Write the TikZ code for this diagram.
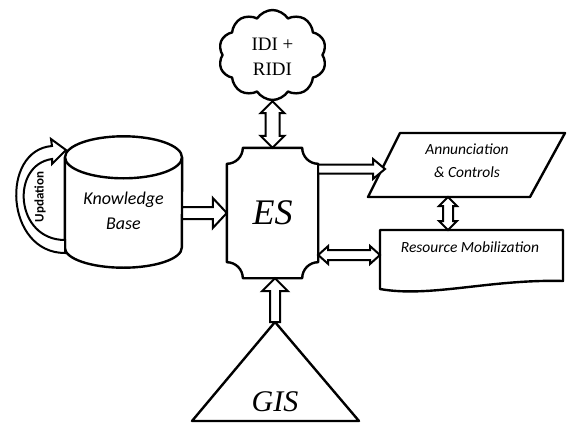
\documentclass[tikz,border=0pt]{standalone}
\usepackage{fontspec}
\newfontfamily\carl{Carlito}
\newfontfamily\serf{Liberation Serif}
\usetikzlibrary{shapes.symbols,calc}
\tikzset{
  shp/.style={draw=black, line width=2.4pt, line join=round},
  blk/.style={draw=black, line width=2pt, fill=white, line join=miter},
  lbl/.style={font=\carl\itshape, align=center, inner sep=0pt},
  box/.style={inner sep=0pt, draw=none},
}
% single block arrow: from #1 to #2, shaft half-width #3, head half-width #4, head length #5 (pt)
\newcommand\blkarrow[5]{%
  \path[blk] let \p1=(#1), \p2=(#2), \n1={atan2(\y2-\y1,\x2-\x1)}, \n2={veclen(\x2-\x1,\y2-\y1)} in
  [shift={(\p1)}, rotate=\n1] (0pt,#3pt) -- ({\n2-#5pt},#3pt) -- ({\n2-#5pt},#4pt) -- (\n2,0pt)
  -- ({\n2-#5pt},-#4pt) -- ({\n2-#5pt},-#3pt) -- (0pt,-#3pt) -- cycle;}
% double block arrow
\newcommand\dblarrow[5]{%
  \path[blk] let \p1=(#1), \p2=(#2), \n1={atan2(\y2-\y1,\x2-\x1)}, \n2={veclen(\x2-\x1,\y2-\y1)} in
  [shift={(\p1)}, rotate=\n1] (0pt,0pt) -- (#5pt,#4pt) -- (#5pt,#3pt) -- ({\n2-#5pt},#3pt) -- ({\n2-#5pt},#4pt) -- (\n2,0pt)
  -- ({\n2-#5pt},-#4pt) -- ({\n2-#5pt},-#3pt) -- (#5pt,-#3pt) -- (#5pt,-#4pt) -- cycle;}
\begin{document}
\begin{tikzpicture}[x=1pt,y=-1pt]
\useasboundingbox (0,0) rectangle (568,423);

% cloud
\node[shp, cloud, cloud puffs=10, cloud puff arc=115, cloud ignores aspect,
      minimum width=108pt, minimum height=90pt, inner sep=0pt] (cloud) at (272.5,55) {};
\node[align=center, inner sep=0pt, font=\serf\fontsize{19}{25}\selectfont] (idi) at (272.5,57) {IDI +\\RIDI};

% ES
\node[box, minimum width=91pt, minimum height=130pt] (es) at (272.5,213) {};
\draw[shp] ($(es.north west)+(16,0)$) -- ($(es.north east)+(-16,0)$) arc[start angle=180,end angle=90,radius=16]
  -- ($(es.south east)+(0,-16)$) arc[start angle=270,end angle=180,radius=16]
  -- ($(es.south west)+(16,0)$) arc[start angle=0,end angle=-90,radius=16]
  -- ($(es.north west)+(0,16)$) arc[start angle=90,end angle=0,radius=16] -- cycle;
\node[inner sep=0pt, font=\serf\fontsize{36}{40}\selectfont\itshape] (estext) at (es.center) {ES};

% Knowledge base cylinder
\node[box, minimum width=117pt, minimum height=131pt] (kb) at (123.5,202) {};
\draw[shp] ($(kb.north)+(0,21)$) ellipse [x radius=58.5, y radius=21];
\draw[shp] ($(kb.north west)+(0,21)$) -- ($(kb.south west)+(0,-20)$)
  arc[start angle=180,end angle=0,x radius=58.5,y radius=20] -- ($(kb.north east)+(0,21)$);
\node[lbl, font=\carl\itshape\fontsize{18}{25}\selectfont] (kbtext) at (123.5,211) {Knowledge\\Base};

% Updation loop arrow
\draw[blk] (65,253) .. controls (5,253) and (0,150) .. (52,146) -- (51,139) -- (66,150) -- (52,164)
  -- (52,159) .. controls (10,165) and (15,240) .. (65,240) -- cycle;
\node[rotate=90, inner sep=0pt, font=\carl\bfseries\fontsize{13}{15}\selectfont] (upd) at (40,197) {Updation};

% Annunciation parallelogram
\coordinate (a1) at (400,133);
\coordinate (a2) at (565,133);
\coordinate (a3) at (530,197);
\coordinate (a4) at (368,197);
\draw[shp] (a1) -- (a2) -- (a3) -- (a4) -- cycle;
\node[lbl, font=\carl\itshape\fontsize{15.5}{23}\selectfont] (ann) at (467,161) {Annunciation\\\& Controls};
\coordinate (annin) at (385,169);
\coordinate (annbot) at (448,197);

% Resource mobilization document
\draw[shp] (380,230) -- (563,230) -- (563,281) .. controls (490,279) and (430,298) .. (380,289) -- cycle;
\node[lbl, font=\carl\itshape\fontsize{15.5}{18}\selectfont] (res) at (470,247) {Resource Mobilization};
\coordinate (restop) at (448,230);
\coordinate (resin) at (380,255);

% GIS triangle
\coordinate (gapex) at (275,322);
\draw[shp] (gapex) -- (359,421) -- (192,421) -- cycle;
\node[inner sep=0pt, font=\serf\fontsize{30}{34}\selectfont\itshape] (gis) at (275,402) {GIS};

% block arrows
\dblarrow{cloud.south}{cloud.south |- es.north}{7}{12}{12}
\blkarrow{kb.east |- es.west}{es.west}{6}{15}{14}
\blkarrow{es.east |- annin}{annin}{4.5}{10}{12}
\dblarrow{annbot}{restop}{5}{9}{9}
\dblarrow{es.east |- resin}{resin}{5}{9}{10}
\blkarrow{gapex}{gapex |- es.south}{5}{13}{13}
\end{tikzpicture}
\end{document}
